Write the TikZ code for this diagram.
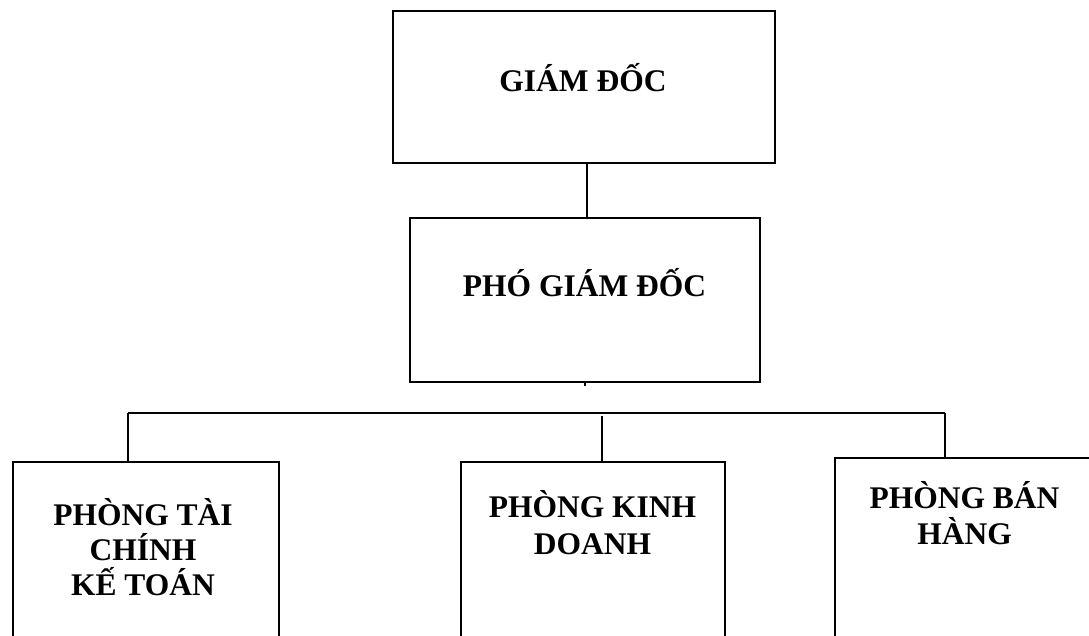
\documentclass[tikz,border=0pt]{standalone}
\usepackage{fontspec}
\usetikzlibrary{calc}
\setmainfont{Liberation Serif}
\begin{document}
\begin{tikzpicture}[x=1pt,y=-1pt,
  box/.style={draw, line width=1.6pt, inner sep=0pt, anchor=north west},
  lbl/.style={font={\bfseries\fontsize{31.5}{#1}\selectfont\lineskiplimit=-100pt},
    align=center, inner sep=0pt},
  lbl/.default=37,
  conn/.style={line width=1.6pt}]
\useasboundingbox (0,0) rectangle (1089,636);
\clip (0,0) rectangle (1089,636);

% management boxes
\node[box, minimum width=382pt, minimum height=152pt] (gd) at (392,10) {};
\node[box, minimum width=350pt, minimum height=164pt] (pgd) at (409,217) {};
\node[lbl] (gdt) at (583,77.5) {GIÁM ĐỐC};
\node[lbl] (pgdt) at (584.5,282.5) {PHÓ GIÁM ĐỐC};

% department boxes (run off the page bottom and right)
\node[box, minimum width=266pt, minimum height=200pt] (tc) at (12,461) {};
\node[box, minimum width=264pt, minimum height=200pt] (kd) at (460,461) {};
\node[box, minimum width=280pt, minimum height=200pt] (bh) at (834,457) {};
\node[lbl=35] (tct) at (143,547) {PHÒNG TÀI\\CHÍNH\\KẾ TOÁN};
\node[lbl=37] (kdt) at (592.5,523) {PHÒNG KINH\\DOANH};
\node[lbl=36] (bht) at (964.5,513.5) {PHÒNG BÁN\\HÀNG};

% connectors
\coordinate (top) at (587,0);
\draw[conn] (top |- gd.south) -- (top |- pgd.north);
\coordinate (stub) at ($(pgd.south)+(0,3)$);
\draw[conn] (pgd.south) -- (stub);

\coordinate (busL) at (128,413);
\coordinate (busR) at (945,413);
\coordinate (busM) at (602,416);
\draw[conn] (busL) -- (busR);
\draw[conn] (busL) -- (busL |- tc.north);
\draw[conn] (busM) -- (busM |- kd.north);
\draw[conn] (busR) -- (busR |- bh.north);
\end{tikzpicture}
\end{document}
